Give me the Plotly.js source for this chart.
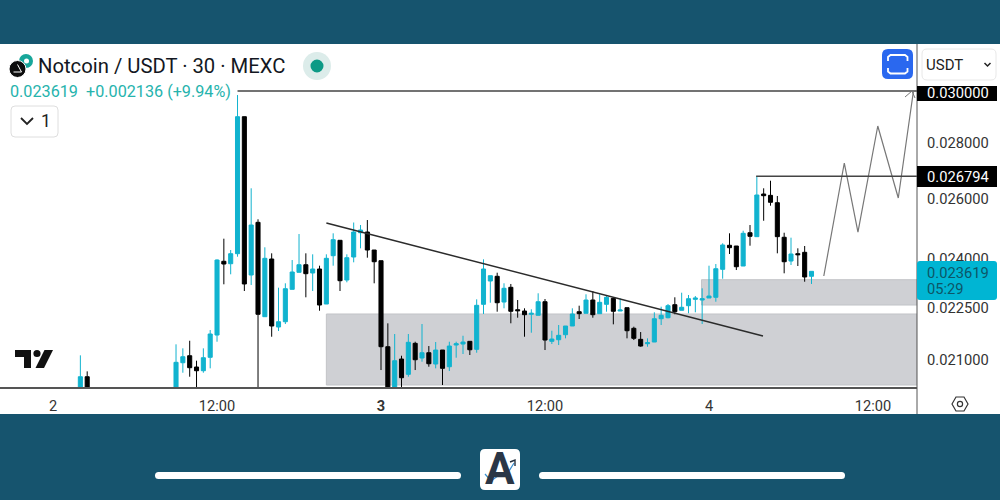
<!DOCTYPE html>
<html><head><meta charset="utf-8">
<script src="https://cdn.plot.ly/plotly-3.0.1.min.js"></script>
<style>html,body{margin:0;padding:0;background:#16546e}#c{width:1000px;height:500px}</style>
</head><body><div id="c"></div>
<script>
// 30-minute bars counted from the start of day 2
const bars = [4,5,18,19,20,21,22,23,24,25,26,27,28,29,30,31,32,33,34,35,36,37,38,39,40,41,42,43,44,45,46,47,48,49,50,51,52,53,54,55,56,57,58,59,60,61,62,63,64,65,66,67,68,69,70,71,72,73,74,75,76,77,78,79,80,81,82,83,84,85,86,87,88,89,90,91,92,93,94,95,96,97,98,99,100,101,102,103,104,105,106,107,108,109,110,111];
const opens = [.020127,.020538,.020048,.020923,.021118,.020804,.020702,.021074,.021706,.023935,.023859,.024178,.028995,.023504,.025205,.022240,.024008,.021938,.022092,.023062,.023588,.023827,.023567,.023692,.022617,.024114,.024611,.023349,.024072,.024860,.024883,.024296,.023954,.021372,.020048,.021026,.020603,.021468,.021054,.021202,.020887,.021278,.020812,.021420,.021448,.021525,.021298,.022608,.023318,.023464,.022677,.023124,.022447,.022408,.022311,.022281,.022686,.021525,.021571,.021715,.021967,.022388,.022340,.022737,.022329,.022608,.022788,.022408,.022507,.021900,.021582,.021457,.021505,.022180,.022210,.022597,.022429,.022567,.022758,.022737,.022798,.022819,.023682,.024449,.024426,.023786,.024860,.024730,.026170,.026123,.025870,.024710,.023944,.024178,.024222,.023464];
const highs = [.021129,.020685,.021440,.021326,.021542,.020979,.021326,.021850,.023998,.024664,.024296,.029840,.028995,.026369,.025306,.024384,.024190,.023112,.023247,.023976,.024817,.024190,.024158,.023796,.024158,.024841,.024611,.024158,.025199,.025115,.025282,.024296,.023954,.022045,.021735,.021118,.021735,.021514,.022025,.021391,.021505,.021278,.021514,.021514,.021685,.021525,.022758,.023998,.023483,.023576,.023248,.023226,.022737,.022489,.022459,.022941,.022767,.021830,.021996,.021967,.022489,.022567,.022910,.023011,.022910,.022889,.022819,.022788,.022507,.021947,.021792,.021611,.022370,.022537,.022617,.022819,.022959,.022889,.022858,.023093,.023796,.023849,.024514,.024841,.024426,.024926,.025115,.026802,.026369,.026635,.026101,.024860,.024697,.024351,.024426,.023619];
const lows = [.019970,.019917,.019917,.020647,.020538,.020048,.020647,.020768,.021514,.023216,.023526,.024082,.023011,.023195,.020048,.022240,.021657,.021821,.022025,.023062,.023588,.022819,.023011,.022417,.022617,.023796,.023011,.023278,.023903,.024351,.024050,.023247,.020721,.019917,.019917,.020048,.020538,.020721,.020951,.020812,.020768,.020313,.020694,.021062,.021166,.021138,.021202,.022320,.022656,.022388,.022489,.022046,.022210,.021657,.021772,.022281,.021278,.021448,.021420,.021611,.021967,.022172,.022340,.022210,.022329,.022388,.022016,.022408,.021611,.021562,.021372,.021372,.021505,.021996,.022192,.022311,.022429,.022340,.022370,.022025,.022798,.022686,.023389,.024168,.023660,.023786,.024436,.024730,.025258,.025767,.024190,.023557,.023818,.023786,.023296,.023226];
const closes = [.020538,.020127,.020934,.021090,.020785,.020702,.021062,.021735,.023976,.023849,.024178,.028995,.023226,.025115,.022311,.024030,.021967,.022092,.023081,.023598,.023827,.023545,.023692,.022587,.024030,.024631,.023327,.024050,.024883,.024949,.024296,.023922,.021372,.020048,.020979,.020511,.021497,.021006,.021202,.020895,.021278,.020768,.021391,.021457,.021505,.021286,.022578,.023692,.023483,.022656,.023093,.022400,.022417,.022299,.022340,.022686,.021562,.021591,.021697,.021967,.022320,.022329,.022737,.022299,.022668,.022819,.022400,.022438,.021830,.021611,.021391,.021485,.022180,.022281,.022567,.022388,.022519,.022777,.022798,.022777,.022858,.023701,.024459,.024371,.023764,.024841,.024742,.026135,.026111,.025883,.024730,.023922,.024168,.024146,.023443,.023619];

const priceTicks = [0.028,0.026,0.024,0.0225,0.021];
const priceTickLabels = ["0.028000","0.026000","0.024000","0.022500","0.021000"];
const timeTicks = [0,24,48,72,96,120];
const timeTickLabels = ["2","12:00","<b>3</b>","12:00","4","12:00"];

const upperZone = {bar:94.9, top:.023358, bottom:.022587};
const lowerZone = {bar:40, top:.022320, bottom:.020313};
const trendBars = [40,103.9];
const trendPrices = [.025182,.021677];
const targetLevel = {bar:27, price:.030000, label:"0.030000"};
const swingLevel = {bar:102.9, price:.026794, label:"0.026794"};
const projectionBars = [112.8,115.8,117.8,120.7,123.7,125.9];
const projectionPrices = [.023473,.027268,.024883,.028640,.026031,.029960];

const PW=917, PH=343, PT=44;
const px=x=>x/PW, py=y=>(PT+PH-y)/PH;
const pShape=(o)=>Object.assign({xref:'paper',yref:'paper',layer:'above',line:{width:0}},o);
const rect=(x0,y0,x1,y1,fill,extra)=>pShape(Object.assign({type:'rect',x0:px(x0),x1:px(x1),y0:py(y0),y1:py(y1),fillcolor:fill},extra||{}));
const rrect=(x0,y0,x1,y1,r,fill,line)=>{
  const P=(x,y)=>px(x)+','+py(y);
  const d='M'+P(x0+r,y0)+' L'+P(x1-r,y0)+' Q'+P(x1,y0)+' '+P(x1,y0+r)+' L'+P(x1,y1-r)+' Q'+P(x1,y1)+' '+P(x1-r,y1)+' L'+P(x0+r,y1)+' Q'+P(x0,y1)+' '+P(x0,y1-r)+' L'+P(x0,y0+r)+' Q'+P(x0,y0)+' '+P(x0+r,y0)+' Z';
  return pShape({type:'path',path:d,fillcolor:fill,line:line||{width:0}});
};
const poly=(pts,line,fill)=>pShape({type:'path',path:pts.map((p,i)=>(i?'L':'M')+px(p[0])+','+py(p[1])).join(' ')+(fill?' Z':''),line:line,fillcolor:fill||'rgba(0,0,0,0)'});
const circ=(cx,cy,r,fill,line)=>pShape({type:'circle',x0:px(cx-r),x1:px(cx+r),y0:py(cy+r),y1:py(cy-r),fillcolor:fill,line:line||{width:0}});
const lbl=(x,y,text,size,color,anchor,extra)=>Object.assign({xref:'paper',yref:'paper',x:px(x),y:py(y),text:text,showarrow:false,xanchor:anchor||'left',yanchor:'middle',font:{family:'Roboto',size:size,color:color},borderpad:0,borderwidth:0},extra||{});

const zoneStyle={fillcolor:'#cfd0d4',line:{color:'#c2c3c7',width:1},layer:'below'};
const shapes=[
  rect(0,44,1000,414,'#ffffff',{layer:'below'}),
  Object.assign({type:'rect',xref:'x',yref:'y',x0:lowerZone.bar,x1:126.44,y0:lowerZone.bottom,y1:lowerZone.top},zoneStyle),
  Object.assign({type:'rect',xref:'x',yref:'y',x0:upperZone.bar,x1:126.44,y0:upperZone.bottom,y1:upperZone.top},zoneStyle),
  {type:'line',xref:'x',yref:'y',x0:trendBars[0],x1:trendBars[1],y0:trendPrices[0],y1:trendPrices[1],line:{color:'#2b2b2b',width:1.5}},
  {type:'line',xref:'x',yref:'y',x0:targetLevel.bar,x1:126.44,y0:targetLevel.price,y1:targetLevel.price,line:{color:'#444',width:1.5}},
  {type:'line',xref:'x',yref:'y',x0:swingLevel.bar,x1:126.44,y0:swingLevel.price,y1:swingLevel.price,line:{color:'#444',width:1.5}},
  pShape({type:'line',x0:px(917),x1:px(917),y0:py(44),y1:py(414),line:{color:'#555',width:1}}),
  poly([[905,97],[912,91],[915,98]],{color:'#777',width:1}),
  rect(917,86,997,101,'#000000'),
  rect(917,166,997,187,'#000000'),
  rrect(917,261,997,300,3,'#00b5d3'),
  rrect(922,49,996,80,5,'#ffffff',{color:'#e8e8e8',width:1}),
  poly([[984.5,63],[987.5,66],[990.5,63]],{color:'#222',width:1.5}),
  rrect(882,49,913,79,6,'#2a68ef'),
  poly([[888,61],[888,57],[890.5,55],[905,55],[907.5,57],[907.5,61]],{color:'#fff',width:1.8}),
  poly([[888,68],[888,71.5],[890.5,73.5],[905,73.5],[907.5,71.5],[907.5,68]],{color:'#fff',width:1.8}),
  circ(26,61,7,'#17a69a'),
  circ(26.5,61,2.5,'#ffffff'),
  circ(17.5,69,8.5,'#0d0d0d',{color:'#fff',width:1}),
  poly([[17.5,64.5],[21.5,72],[13.5,72]],{color:'#fff',width:1}),
  circ(317,66,14,'#dcecea'),
  circ(317,66,6.5,'#0d9a86'),
  rrect(11,106,58,137,4,'#ffffff',{color:'#dedede',width:1}),
  poly([[21,118],[27,124],[33,118]],{color:'#222',width:1.8}),
  poly([[15,350],[31,350],[31,368],[24,368],[24,357],[15,357]],{width:0},'#111'),
  circ(37,353.5,3.6,'#111'),
  poly([[44.5,350],[53,350],[44,368],[35.5,368]],{width:0},'#111'),
  poly([[952,404],[956,397],[964,397],[968,404],[964,411],[956,411]],{color:'#333',width:1.2},'rgba(0,0,0,0)'),
  circ(960,404,2.6,'#fff',{color:'#333',width:1.2}),
  rrect(155,472,461,479,3.5,'#ffffff'),
  rrect(539,472,845,479,3.5,'#ffffff'),
  rrect(480,449,520,490,5,'#ffffff'),
];
const footerMarks=[
  poly([[485,474],[491,481],[502,473],[506,476],[514,463]],{color:'#ffffff',width:3.2}),
  poly([[485,474],[491,481],[502,473],[506,476],[514,463]],{color:'#3a8fd0',width:1.2}),
  poly([[510,462],[515,460],[515,466]],{color:'#24303f',width:1.4}),
];

const annotations=[
  lbl(38,65.5,"Notcoin / USDT · 30 · MEXC",20.25,'#131722'),
  lbl(10,92,"0.023619&#160;&#160;+0.002136 (+9.94%)",16.2,'#26b3ad'),
  lbl(41,121.5,"1",17.5,'#222'),
  lbl(926,64.5,"USDT",15,'#222'),
  lbl(958,92.5,targetLevel.label,14.7,'#ffffff','center'),
  lbl(958,176.5,swingLevel.label,14.7,'#ffffff','center'),
  lbl(958,272.5,"0.023619",14.7,'#0d5567','center'),
  lbl(927,289,"05:29",14.7,'#0d5567'),
  lbl(500,469,"<b>A</b>",44,'#2a3646','center'),
];

const data=[
 {type:'candlestick',x:bars,open:opens,high:highs,low:lows,close:closes,whiskerwidth:0,hoverinfo:'skip',
  increasing:{line:{color:'#11b3cf',width:1},fillcolor:'#11b3cf'},
  decreasing:{line:{color:'#000000',width:1},fillcolor:'#000000'},showlegend:false},
 {type:'scatter',mode:'lines',x:projectionBars,y:projectionPrices,line:{color:'#777',width:1.2},hoverinfo:'skip',showlegend:false}
];

const layout={
  width:1000,height:500,showlegend:false,boxgap:0.15,
  margin:{l:0,r:83,t:44,b:113,pad:0},
  paper_bgcolor:'#16546e',plot_bgcolor:'rgba(0,0,0,0)',
  font:{family:'Roboto',color:'#333'},
  xaxis:{type:'linear',range:[-7.76,126.44],rangeslider:{visible:false},fixedrange:true,showgrid:false,zeroline:false,
    tickmode:'array',tickvals:timeTicks,ticktext:timeTickLabels,ticks:'',tickfont:{family:'Roboto',size:14.6,color:'#333'},
    showline:true,linecolor:'#555',linewidth:1.5,ticklabelstandoff:5},
  yaxis:{type:'log',side:'right',range:[Math.log10(.02026),Math.log10(.03193)],fixedrange:true,showgrid:false,zeroline:false,
    tickmode:'array',tickvals:priceTicks,ticktext:priceTickLabels,ticks:'',tickfont:{family:'Roboto',size:14.7,color:'#333'},
    showline:false,ticklabelstandoff:9},
  shapes:shapes,annotations:annotations
};
layout.annotations=annotations;
Plotly.newPlot('c',data,layout,{displayModeBar:false,staticPlot:true}).then(()=>{
  Plotly.relayout('c',{shapes:shapes.concat(footerMarks)});
});
</script></body></html>
